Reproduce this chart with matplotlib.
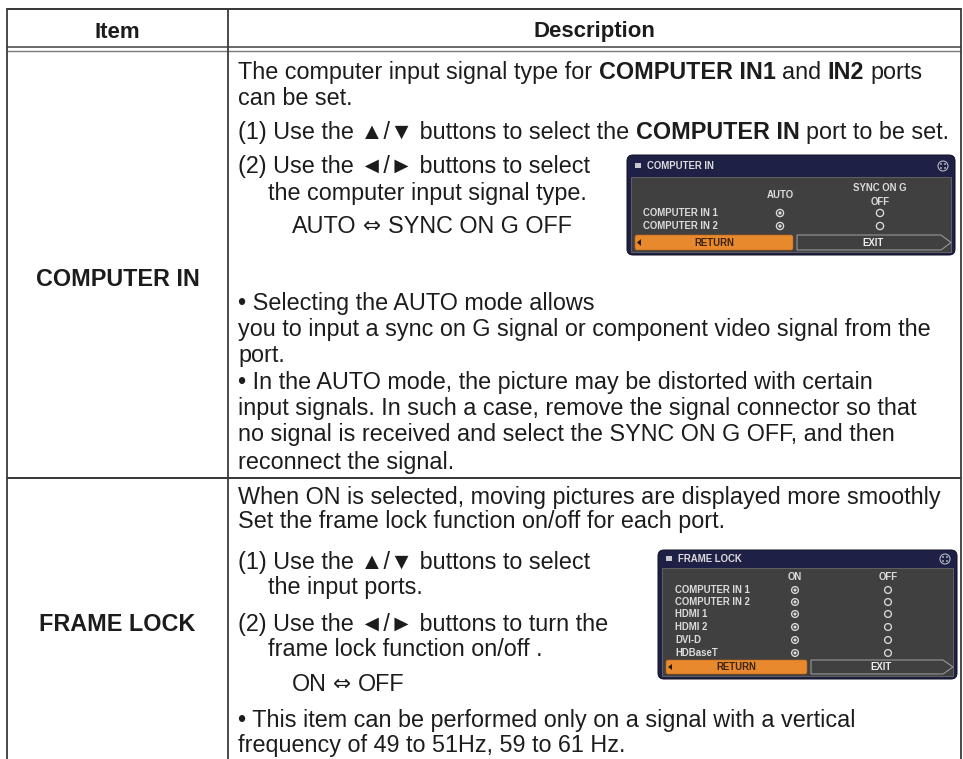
import matplotlib
matplotlib.use('Agg')
import matplotlib.pyplot as plt
from matplotlib.patches import FancyBboxPatch, Circle, Polygon, Rectangle

W, H = 963, 759
FAM = ['Liberation Sans', 'DejaVu Sans']
SYMFAM = ['DejaVu Sans']
TXT = '#1c1c1c'
BODY_SIZE = 16.8

# ---------------- data (texts) ----------------
header_labels = ['Item', 'Description']
item_labels = ['COMPUTER IN', 'FRAME LOCK']

ARROW = '\u21D4'
ci_lines = [
    [('The computer input signal type for ', 'n'), ('COMPUTER IN1', 'b'), (' and ', 'n'), ('IN2', 'b'), (' ports', 'n')],
    [('can be set.', 'n')],
    [('(1) Use the \u25B2/\u25BC buttons to select the ', 'n'), ('COMPUTER IN', 'b'), (' port to be set.', 'n')],
    [('(2) Use the \u25C4/\u25BA buttons to select', 'n')],
    [('the computer input signal type.', 'n')],
    [('AUTO ', 'n'), (ARROW, 's'), (' SYNC ON G OFF', 'n')],
    [('\u2022 Selecting the AUTO mode allows', 'n')],
    [('you to input a sync on G signal or component video signal from the', 'n')],
    [('port.', 'n')],
    [('\u2022 In the AUTO mode, the picture may be distorted with certain', 'n')],
    [('input signals. In such a case, remove the signal connector so that', 'n')],
    [('no signal is received and select the SYNC ON G OFF, and then', 'n')],
    [('reconnect the signal.', 'n')],
]
ci_indent = [0, 0, 0, 0, 30, 54, 0, 0, 0, 0, 0, 0, 0]
ci_base = [79, 105, 139, 173, 200, 233, 310, 336, 362, 389, 415, 441, 469]

fl_lines = [
    [('When ON is selected, moving pictures are displayed more smoothly', 'n')],
    [('Set the frame lock function on/off for each port.', 'n')],
    [('(1) Use the \u25B2/\u25BC buttons to select', 'n')],
    [('the input ports.', 'n')],
    [('(2) Use the \u25C4/\u25BA buttons to turn the', 'n')],
    [('frame lock function on/off .', 'n')],
    [('ON ', 'n'), (ARROW, 's'), (' OFF', 'n')],
    [('\u2022 This item can be performed only on a signal with a vertical', 'n')],
    [('frequency of 49 to 51Hz, 59 to 61 Hz.', 'n')],
]
fl_indent = [0, 0, 0, 30, 0, 30, 54, 0, 0]
fl_base = [504, 528, 569, 594, 631, 656, 691, 727, 752]

# menu contents
ci_menu_title = 'COMPUTER IN'
ci_menu_cols = ['AUTO', 'SYNC ON G\nOFF']
ci_menu_rows = ['COMPUTER IN 1', 'COMPUTER IN 2']
ci_menu_sel = [0, 0]

fl_menu_title = 'FRAME LOCK'
fl_menu_cols = ['ON', 'OFF']
fl_menu_rows = ['COMPUTER IN 1', 'COMPUTER IN 2', 'HDMI 1', 'HDMI 2', 'DVI-D', 'HDBaseT']
fl_menu_sel = [0, 0, 0, 0, 0, 0]

btn_labels = ['RETURN', 'EXIT']

# ---------------- figure ----------------
fig = plt.figure(figsize=(W / 100, H / 100), dpi=100)
ax = fig.add_axes([0, 0, 1, 1])
ax.set_xlim(0, W)
ax.set_ylim(H, 0)
ax.axis('off')
r = fig.canvas.get_renderer()


def px(v):
    return v * 0.72


def style_kw(style, size):
    if style == 's':
        return dict(fontsize=size * 0.92, fontweight='normal', family=SYMFAM)
    return dict(fontsize=size, fontweight='bold' if style == 'b' else 'normal', family=FAM)


def tw(s, style, size):
    kw = style_kw(style, size)
    t1 = ax.text(0, 0, '|' + s + '|', **kw)
    t2 = ax.text(0, 0, '||', **kw)
    w = t1.get_window_extent(r).width - t2.get_window_extent(r).width
    t1.remove(); t2.remove()
    return w


def draw_runs(x, y, runs, size=BODY_SIZE):
    for s, style in runs:
        lead = len(s) - len(s.lstrip(' '))
        core = s.strip(' ')
        trail = len(s) - lead - len(core)
        sp = tw(' ', 'n', size) + (1.5 if style == 's' else 0)
        x += sp * lead
        if core:
            yy = y - 1 if style == 's' else y
            ax.text(x, yy, core, color=TXT, ha='left', va='baseline', **style_kw(style, size))
            x += tw(core, style, size)
        x += sp * trail


# ---------------- table grid ----------------
LEFT, DIV, RIGHT = 7, 228, 961
ax.plot([LEFT, RIGHT], [9, 9], color='#3a3a3a', lw=px(2), solid_capstyle='butt')
ax.plot([LEFT, RIGHT], [47, 47], color='#4a4a4a', lw=px(1.6), solid_capstyle='butt')
ax.plot([LEFT, RIGHT], [51, 51], color='#7a7a7a', lw=px(1.4), solid_capstyle='butt')
ax.plot([LEFT, RIGHT], [478, 478], color='#3a3a3a', lw=px(2), solid_capstyle='butt')
ax.plot([LEFT, LEFT], [8, H], color='#3a3a3a', lw=px(1.8), solid_capstyle='butt')
ax.plot([DIV, DIV], [8, H], color='#3a3a3a', lw=px(1.8), solid_capstyle='butt')
ax.plot([RIGHT, RIGHT], [8, H], color='#3a3a3a', lw=px(1.8), solid_capstyle='butt')

# header
ax.text((LEFT + DIV) / 2, 37.5, header_labels[0], fontsize=16, fontweight='bold',
        family=FAM, color=TXT, ha='center', va='baseline')
ax.text((DIV + RIGHT) / 2, 37.5, header_labels[1], fontsize=16, fontweight='bold',
        family=FAM, color=TXT, ha='center', va='baseline')

# item labels
item_base = [286, 631]
for lab, yb in zip(item_labels, item_base):
    ax.text((LEFT + DIV) / 2, yb, lab, fontsize=16.8, fontweight='bold',
            family=FAM, color=TXT, ha='center', va='baseline')

TX = 238
for runs, ind, yb in zip(ci_lines, ci_indent, ci_base):
    draw_runs(TX + ind, yb, runs)
for runs, ind, yb in zip(fl_lines, fl_indent, fl_base):
    draw_runs(TX + ind, yb, runs)


# ---------------- menus ----------------
MFRAME = '#1f2046'
MBODY = '#404040'
MTXT = '#dcdcdc'
ORANGE = '#e8892d'
MFS = 6.9


def radio(x, y, rad, selected):
    ax.add_patch(Circle((x, y), rad, fc='none', ec=MTXT, lw=px(1.3), zorder=5))
    if selected:
        ax.add_patch(Circle((x, y), rad * 0.45, fc=MTXT, ec='none', zorder=5))


def menu(x0, x1, y0, y1, ytb, title, cols, col_x, col_y, rows, row_x, row_y, sel,
         rad, by0, by1, bmid):
    ax.add_patch(FancyBboxPatch((x0, y0), x1 - x0, y1 - y0,
                                boxstyle='round,pad=0,rounding_size=6',
                                fc=MFRAME, ec='#111122', lw=px(1), zorder=2))
    ax.add_patch(Rectangle((x0 + 4, ytb), x1 - x0 - 8, y1 - ytb - 3,
                           fc=MBODY, ec='#6c6c6c', lw=px(0.8), zorder=3))
    ty = (y0 + ytb) / 2
    ax.add_patch(Rectangle((x0 + 8, ty - 3), 6, 5, fc='#c8c8d0', ec='none', zorder=4))
    ax.text(x0 + 20, ty, title, fontsize=MFS, fontweight='bold', family=FAM, color=MTXT,
            ha='left', va='center', zorder=5)
    ax.add_patch(Circle((x1 - 12, ty), 5, fc='none', ec='#c8c8d0', lw=px(1), zorder=5))
    for dx, dy in [(-2, -2), (2, -2), (-2, 2), (2, 2)]:
        ax.add_patch(Circle((x1 - 12 + dx, ty + dy), 0.9, fc='#c8c8d0', ec='none', zorder=5))
    for c, cx in zip(cols, col_x):
        ax.text(cx, col_y, c, fontsize=MFS, fontweight='bold', family=FAM, color=MTXT,
                ha='center', va='center', linespacing=1.45, zorder=5)
    for lab, yy, s in zip(rows, row_y, sel):
        ax.text(row_x, yy, lab, fontsize=MFS, fontweight='bold', family=FAM, color=MTXT,
                ha='left', va='center', zorder=5)
        for k, cx in enumerate(col_x):
            radio(cx, yy, rad, s == k)
    # buttons
    bl = x0 + 8
    ax.add_patch(FancyBboxPatch((bl, by0), bmid - 2 - bl, by1 - by0,
                                boxstyle='round,pad=0,rounding_size=2',
                                fc=ORANGE, ec='#b86418', lw=px(0.6), zorder=4))
    ax.add_patch(Polygon([(bl + 2, (by0 + by1) / 2), (bl + 6, by0 + 4), (bl + 6, by1 - 4)],
                         closed=True, fc='#2a1a0a', ec='none', zorder=5))
    ax.text((bl + bmid - 2) / 2, (by0 + by1) / 2, btn_labels[0], fontsize=MFS,
            fontweight='bold', family=FAM, color='#3a2410', ha='center', va='center', zorder=5)
    er = x1 - 4
    ax.add_patch(Polygon([(bmid + 2, by0), (er - 10, by0), (er, (by0 + by1) / 2),
                          (er - 10, by1), (bmid + 2, by1)], closed=True,
                         fc='none', ec='#a0a0a0', lw=px(1), zorder=5))
    ax.text((bmid + er) / 2, (by0 + by1) / 2, btn_labels[1], fontsize=MFS,
            fontweight='bold', family=FAM, color='#eeeeee', ha='center', va='center', zorder=5)


menu(627, 955, 155, 255, 177, ci_menu_title, ci_menu_cols, [780, 880], 195,
     ci_menu_rows, 643, [213, 226], ci_menu_sel, 3.6, 235, 250, 795)
menu(658, 957, 550, 679, 568, fl_menu_title, fl_menu_cols, [795, 888], 577,
     fl_menu_rows, 675, [590, 602, 614, 627, 640, 653], fl_menu_sel, 3.4, 660, 674, 809)

fig.savefig('out.png', dpi=100, facecolor='white')
